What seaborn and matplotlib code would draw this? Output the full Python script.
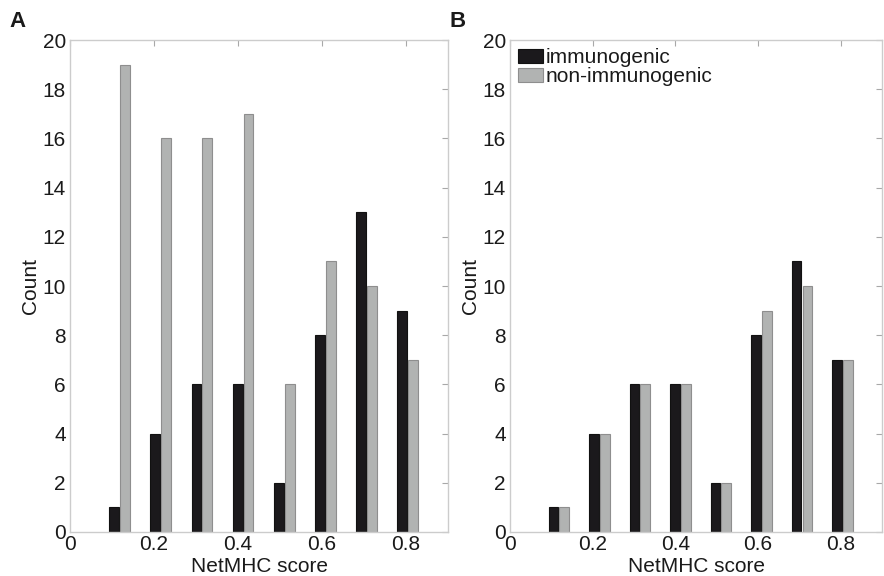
import numpy as np
import pandas as pd
import seaborn as sns
import matplotlib.pyplot as plt

# bin centres of the NetMHC score histogram
bins = [0.118, 0.216, 0.314, 0.412, 0.510, 0.608, 0.706, 0.804]
groups = ['immunogenic', 'non-immunogenic']

# Panel A
imm_a = [1, 4, 6, 6, 2, 8, 13, 9]
non_a = [19, 16, 16, 17, 6, 11, 10, 7]
# Panel B
imm_b = [1, 4, 6, 6, 2, 8, 11, 7]
non_b = [1, 4, 6, 6, 2, 9, 10, 7]

xticks = [0, 0.2, 0.4, 0.6, 0.8]
xticklabels = ['0', '0.2', '0.4', '0.6', '0.8']
yticks = list(range(0, 21, 2))

colors = {'immunogenic': '#1b191c', 'non-immunogenic': '#b1b3b2'}
edges = {'#1b191c': '#111111', '#b1b3b2': '#8e8e8e'}


def make_df(imm, non):
    return pd.DataFrame({
        'score': bins + bins,
        'count': imm + non,
        'group': [groups[0]] * len(bins) + [groups[1]] * len(bins),
    })


sns.set_style('white')
plt.rcParams['font.family'] = ['Liberation Sans', 'DejaVu Sans']
plt.rcParams['font.size'] = 15
plt.rcParams['text.color'] = '#1a1a1a'
plt.rcParams['axes.labelcolor'] = '#1a1a1a'
plt.rcParams['xtick.labelcolor'] = '#1a1a1a'
plt.rcParams['ytick.labelcolor'] = '#1a1a1a'

fig = plt.figure(figsize=(8.84, 5.76), dpi=100)
ax_a = fig.add_axes([0.0792, 0.0764, 0.4276, 0.854])
ax_b = fig.add_axes([0.577, 0.0764, 0.421, 0.854])

for ax, imm, non, tag in [(ax_a, imm_a, non_a, 'A'), (ax_b, imm_b, non_b, 'B')]:
    df = make_df(imm, non)
    sns.barplot(data=df, x='score', y='count', hue='group', hue_order=groups,
                native_scale=True, width=0.53, gap=0.1, palette=colors,
                linewidth=0.8, errorbar=None, ax=ax)
    for p in ax.patches:
        fc = p.get_facecolor()
        hexc = '#%02x%02x%02x' % tuple(int(round(c * 255)) for c in fc[:3])
        p.set_edgecolor(edges.get(hexc, '#555555'))
    ax.set_xlim(0, 0.9)
    ax.set_ylim(0, 20)
    ax.set_xticks(xticks)
    ax.set_xticklabels(xticklabels)
    ax.set_yticks(yticks)
    ax.set_xlabel('NetMHC score', fontsize=15, labelpad=2)
    ax.set_ylabel('Count', fontsize=15, labelpad=2)
    ax.tick_params(direction='in', top=True, right=True, length=4, width=0.8,
                   color='#a8a8a8', labelsize=15)
    ax.tick_params(axis='x', pad=2)
    ax.tick_params(axis='y', pad=3)
    for s in ax.spines.values():
        s.set_visible(True)
        s.set_color('#cccccc')
        s.set_linewidth(1.0)
    if ax.get_legend() is not None:
        ax.get_legend().remove()
    fig.text(ax.get_position().x0 - 0.068, 0.963, tag, fontsize=16,
             fontweight='bold', ha='left', va='center')

handles, labels = ax_b.get_legend_handles_labels()
ax_b.legend(handles, labels, loc='upper left', frameon=False, fontsize=15,
            handlelength=1.2, handleheight=0.65, handletextpad=0.1,
            labelspacing=0.0, borderaxespad=0.3, borderpad=0.1)

fig.savefig('out.png', dpi=100)
plt.close(fig)
